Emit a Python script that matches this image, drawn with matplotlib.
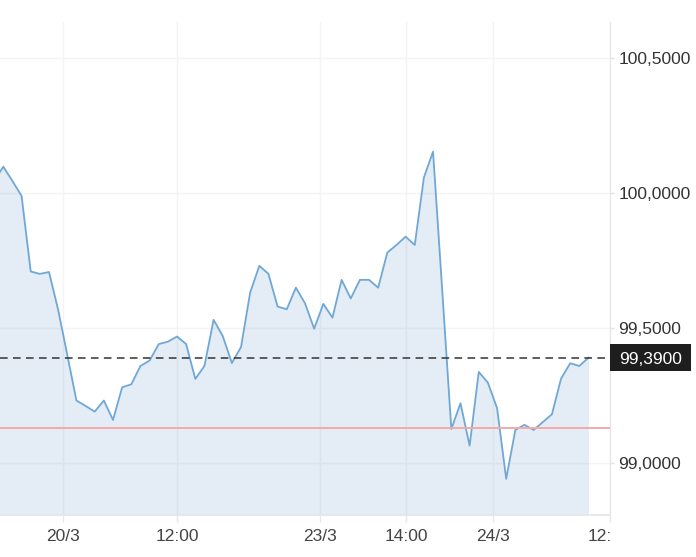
import matplotlib
matplotlib.use("Agg")
import matplotlib.pyplot as plt
import numpy as np
from matplotlib.patches import Rectangle
from matplotlib.transforms import blended_transform_factory, Bbox, TransformedBbox

plt.rcParams["font.family"] = ["Liberation Sans", "DejaVu Sans"]

# kursdata (en punkt per steg, första punkten ligger utanför vänsterkanten)
values = [100.044, 100.097, 100.044, 99.989, 99.709, 99.700, 99.707, 99.567, 99.400,
          99.231, 99.211, 99.190, 99.231, 99.159, 99.280, 99.291, 99.359, 99.379,
          99.440, 99.449, 99.468, 99.440, 99.311, 99.359, 99.530, 99.470, 99.370,
          99.429, 99.631, 99.730, 99.700, 99.579, 99.569, 99.649, 99.591, 99.497,
          99.589, 99.538, 99.678, 99.609, 99.678, 99.678, 99.649, 99.779, 99.807,
          99.838, 99.807, 100.057, 100.153, 99.641, 99.125, 99.221, 99.064, 99.337,
          99.297, 99.203, 98.941, 99.122, 99.141, 99.122, 99.151, 99.180, 99.312,
          99.369, 99.359, 99.390]
last_price = 99.39
ref_level = 99.13

xtick_pos = [6.56, 19.03, 34.63, 44.04, 53.55, 66.3]
xtick_labels = ["20/3", "12:00", "23/3", "14:00", "24/3", "12:00"]
ytick_vals = [99.0, 99.5, 100.0, 100.5]

x = np.arange(len(values)) - 1
y = np.array(values)

fig = plt.figure(figsize=(6.96, 5.57), dpi=100)
ax = fig.add_axes([0.0, 0.0754, 0.8764, 0.8851])

ymin, ymax = 98.807, 100.633
ax.set_xlim(-0.36, 66.35)
ax.set_ylim(ymin, ymax)

# linje + fyllning
ax.fill_between(x, y, ymin, color="#4a86be", alpha=0.15, linewidth=0, zorder=2)
ax.plot(x, y, color="#6fa8d6", linewidth=1.3, zorder=3)

# referensnivå och senaste pris
ax.axhline(ref_level, color="#f5a9a9", linewidth=1.4, zorder=4)
ax.axhline(last_price, color="#333333", linewidth=1.1, linestyle=(0, (5, 3.5)), zorder=5)

# rutnät
ax.set_axisbelow(True)
ax.grid(True, color="#f4f4f4", linewidth=1)

# axlar
for s in ["left", "top"]:
    ax.spines[s].set_visible(False)
ax.spines["right"].set_color("#e3e3e8")
ax.spines["bottom"].set_color("#e3e6ea")
ax.spines["bottom"].set_linewidth(1.2)

ax.yaxis.tick_right()
ax.set_yticks(ytick_vals)
ax.set_yticklabels([f"{v:.4f}".replace(".", ",") for v in ytick_vals])
ax.tick_params(axis="y", length=3, width=1, color="#e3e3e8", pad=3,
               labelsize=12.5, labelcolor="#333333")

ax.set_xticks(xtick_pos)
ax.set_xticklabels([""] * len(xtick_pos))
ax.tick_params(axis="x", length=5, width=1, color="#e3e6ea")

# x-etiketter, klippta vid högerkanten
trans = blended_transform_factory(ax.transData, ax.transAxes)
clip = TransformedBbox(Bbox([[-0.1, -0.2], [1.0, 1.0]]), ax.transAxes)
for pos, lab in zip(xtick_pos, xtick_labels):
    t = ax.text(pos, -0.053, lab, transform=trans, ha="center", va="baseline",
                fontsize=12.5, color="#444444")
    t.set_clip_box(clip)
    t.set_clip_on(True)

# prisetikett
tr2 = blended_transform_factory(ax.transAxes, ax.transData)
ax.add_patch(Rectangle((1.0, last_price - 0.05), 81 / 610, 0.1, transform=tr2,
                       facecolor="#1e1e1e", edgecolor="none", clip_on=False, zorder=6))
ax.text(1.0 + 41 / 610, last_price, f"{last_price:.4f}".replace(".", ","), transform=tr2,
        ha="center", va="center_baseline", fontsize=12.5, color="white", zorder=7)

fig.savefig("out.png", dpi=100)
